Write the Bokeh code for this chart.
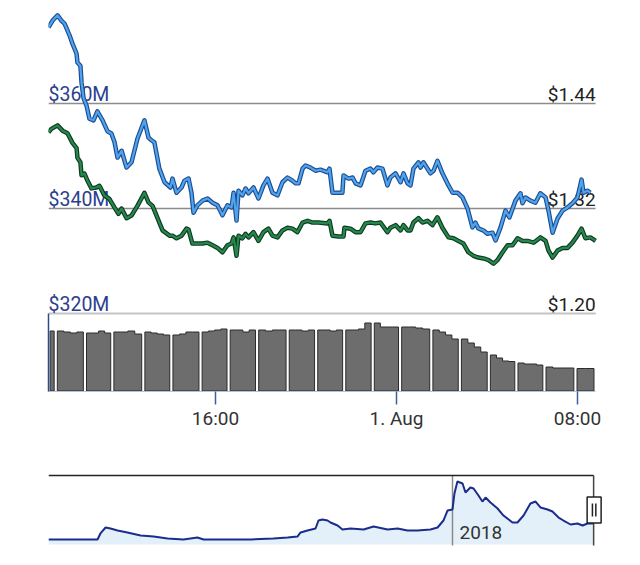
from bokeh.plotting import figure
from bokeh.models import Range1d, LinearAxis, FixedTicker
from bokeh.layouts import column
from bokeh.core.properties import value
from bokeh.embed import file_html
from bokeh.resources import INLINE

FONT = "Roboto"

# ---- main chart data (x in hours since 31 Jul 00:00) ----
blue_t = [8.62, 8.80, 9.02, 9.19, 9.33, 9.55, 9.68, 9.86, 9.90, 10.03, 10.08, 10.17, 10.30, 10.43, 10.61,
          10.78, 11.01, 11.23, 11.40, 11.54, 11.67, 11.85, 12.07, 12.29, 12.55, 12.86, 13.04, 13.17, 13.30,
          13.52, 13.75, 14.01, 14.10, 14.28, 14.50, 14.63, 14.81, 14.94, 15.03, 15.20, 15.43, 15.65, 15.87,
          16.09, 16.31, 16.53, 16.71, 16.80, 16.93, 17.02, 17.19, 17.33, 17.46, 17.68, 17.90, 18.12, 18.30,
          18.52, 18.74, 18.96, 19.18, 19.40, 19.54, 19.67, 19.85, 19.98, 20.20, 20.42, 20.64, 20.95, 21.04,
          21.17, 21.39, 21.61, 21.66, 21.88, 22.06, 22.19, 22.41, 22.63, 22.85, 22.98, 23.16, 23.38, 23.60,
          23.73, 23.96, 24.18, 24.31, 24.49, 24.62, 24.75, 24.97, 25.06, 25.19, 25.50, 25.64, 25.81, 26.03,
          26.25, 26.48, 26.70, 26.92, 27.14, 27.36, 27.49, 27.62, 27.85, 28.02, 28.24, 28.38, 28.60, 28.82,
          28.99, 29.26, 29.48, 29.57, 29.70, 29.92, 30.14, 30.36, 30.59, 30.72, 30.90, 31.12, 31.34, 31.56,
          31.78, 32.00, 32.18, 32.27, 32.44, 32.57]
blue_cap = [374.5, 375.8, 376.8, 375.8, 375.2, 373.0, 371.4, 369.5, 367.8, 367.2, 364.0, 361.0, 359.6, 357.1,
            356.8, 358.5, 356.8, 354.7, 354.3, 352.6, 349.7, 351.0, 347.8, 348.8, 353.3, 356.8, 353.5, 353.0,
            352.6, 347.6, 345.0, 344.0, 345.7, 343.0, 344.0, 345.3, 345.7, 343.0, 339.2, 340.6, 341.5, 341.9,
            341.1, 340.6, 338.7, 340.6, 340.2, 343.0, 337.7, 343.4, 342.5, 343.8, 342.9, 344.0, 341.9, 344.4,
            345.7, 343.0, 342.5, 345.0, 345.9, 345.3, 344.8, 344.8, 347.6, 348.2, 347.8, 347.2, 347.4, 346.9,
            347.6, 343.0, 343.0, 343.0, 346.3, 345.7, 345.9, 344.8, 344.4, 347.2, 347.6, 346.9, 347.8, 347.6,
            344.4, 345.9, 346.7, 345.0, 346.7, 344.8, 344.4, 347.6, 348.8, 347.8, 348.8, 346.7, 347.2, 349.1,
            346.7, 344.8, 343.0, 343.0, 342.1, 340.0, 336.4, 337.3, 336.2, 335.8, 335.2, 335.4, 333.9, 336.4,
            339.6, 338.3, 341.5, 342.9, 341.0, 342.1, 341.5, 341.1, 342.9, 342.1, 339.6, 335.4, 338.1, 339.6,
            340.2, 341.0, 342.1, 345.5, 343.0, 343.4, 343.0]

green_t = [8.62, 8.75, 9.02, 9.24, 9.46, 9.68, 9.86, 9.90, 10.03, 10.08, 10.21, 10.34, 10.52, 10.74, 10.87,
           11.09, 11.31, 11.54, 11.71, 11.85, 12.07, 12.29, 12.55, 12.86, 13.04, 13.22, 13.44, 13.66, 13.97,
           14.10, 14.28, 14.50, 14.72, 14.81, 14.98, 15.20, 15.43, 15.65, 15.87, 16.09, 16.31, 16.53, 16.71,
           16.80, 16.93, 17.02, 17.19, 17.33, 17.46, 17.68, 17.90, 18.12, 18.34, 18.52, 18.74, 18.96, 19.18,
           19.40, 19.62, 19.85, 20.07, 20.29, 20.55, 20.95, 21.04, 21.17, 21.44, 21.66, 21.70, 21.97, 22.19,
           22.41, 22.63, 22.85, 23.07, 23.29, 23.60, 23.73, 23.96, 24.18, 24.31, 24.49, 24.62, 24.75, 24.97,
           25.15, 25.37, 25.59, 25.81, 26.03, 26.30, 26.52, 26.74, 26.96, 27.18, 27.40, 27.62, 27.85, 28.07,
           28.29, 28.46, 28.69, 28.91, 29.13, 29.35, 29.57, 29.79, 30.06, 30.36, 30.59, 30.72, 30.90, 31.12,
           31.34, 31.56, 31.78, 32.00, 32.18, 32.35, 32.57, 32.80]
green_price = [1.407, 1.411, 1.415, 1.409, 1.406, 1.395, 1.389, 1.378, 1.373, 1.358, 1.360, 1.352, 1.343,
               1.344, 1.346, 1.335, 1.331, 1.321, 1.314, 1.320, 1.309, 1.312, 1.323, 1.338, 1.327, 1.323,
               1.309, 1.295, 1.289, 1.289, 1.286, 1.289, 1.297, 1.296, 1.280, 1.280, 1.280, 1.281, 1.278,
               1.275, 1.270, 1.278, 1.280, 1.287, 1.266, 1.289, 1.286, 1.291, 1.287, 1.293, 1.283, 1.293,
               1.297, 1.289, 1.287, 1.295, 1.298, 1.297, 1.293, 1.304, 1.306, 1.304, 1.304, 1.303, 1.306,
               1.289, 1.288, 1.288, 1.298, 1.297, 1.293, 1.293, 1.303, 1.304, 1.303, 1.304, 1.293, 1.298,
               1.301, 1.295, 1.301, 1.295, 1.295, 1.304, 1.309, 1.304, 1.306, 1.301, 1.310, 1.298, 1.287,
               1.286, 1.283, 1.280, 1.270, 1.266, 1.264, 1.263, 1.261, 1.257, 1.261, 1.270, 1.278, 1.278,
               1.286, 1.283, 1.283, 1.281, 1.287, 1.283, 1.272, 1.264, 1.272, 1.275, 1.275, 1.281, 1.289,
               1.297, 1.286, 1.287, 1.283]

# volume: group edges (hours) and stepped values inside each group
vol_edges = [8.62, 8.94, 10.23, 11.44, 12.81, 14.05, 15.34, 16.58, 17.84, 19.19, 20.45, 21.69, 22.95,
             24.16, 25.54, 26.80, 28.08, 29.30, 30.54, 31.91, 32.80]
vol_groups = [
    [6.0],
    [6.0, 5.9, 5.8, 5.9],
    [5.8, 5.8, 6.0, 5.8],
    [5.9, 5.9, 6.0, 5.7],
    [5.9, 5.8, 5.7, 5.6],
    [5.6, 5.7, 5.9, 5.9],
    [5.9, 6.0, 6.1, 6.2],
    [6.1, 6.1, 5.9, 6.1],
    [6.1, 6.0, 6.1, 6.1],
    [6.1, 6.1, 6.0, 6.1],
    [6.1, 6.1, 6.0, 6.1],
    [6.1, 6.1, 6.2, 6.8],
    [6.8, 6.4, 6.4, 6.4],
    [6.4, 6.4, 6.3, 6.2],
    [6.1, 5.9, 5.6, 5.2],
    [5.2, 4.8, 4.4, 3.9],
    [3.6, 3.3, 3.0, 2.95],
    [2.8, 2.7, 2.7, 2.6],
    [2.4, 2.3, 2.3, 2.3],
    [2.25, 2.25],
]

cap_ticks = [320, 340, 360]
cap_labels = ["$320M", "$340M", "$360M"]
price_ticks = [1.20, 1.32, 1.44]
price_labels = ["$1.20", "$1.32", "$1.44"]
tick_hours = [16, 24, 32]
tick_labels = ["16:00", "1. Aug", "08:00"]

view_start, view_end = 8.62, 32.80
vol_pane_top = 7.75

# ---- navigator data (x in years) ----
nav_t = [2016.351, 2016.551, 2016.563, 2016.584, 2016.604, 2016.633, 2016.673, 2016.727, 2016.780,
         2016.837, 2016.902, 2016.959, 2016.984, 2017.065, 2017.176, 2017.269, 2017.327, 2017.367,
         2017.380, 2017.408, 2017.441, 2017.453, 2017.469, 2017.490, 2017.502, 2017.531, 2017.551,
         2017.584, 2017.637, 2017.678, 2017.735, 2017.776, 2017.816, 2017.857, 2017.910, 2017.939,
         2017.963, 2017.980, 2018.000, 2018.008, 2018.020, 2018.041, 2018.053, 2018.073, 2018.086,
         2018.106, 2018.122, 2018.135, 2018.155, 2018.184, 2018.208, 2018.245, 2018.265, 2018.290,
         2018.318, 2018.339, 2018.359, 2018.388, 2018.408, 2018.433, 2018.453, 2018.482, 2018.510,
         2018.531, 2018.551, 2018.576]
nav_cap = [80, 80, 177, 273, 257, 225, 193, 144, 128, 96, 80, 112, 80, 80, 80, 96, 112, 128, 193, 225, 257,
           385, 401, 385, 353, 305, 241, 257, 241, 289, 241, 257, 225, 225, 241, 273, 385, 546, 562, 819,
           1011, 979, 835, 915, 899, 786, 690, 754, 674, 578, 465, 353, 353, 465, 658, 690, 594, 562, 530,
           433, 385, 321, 337, 305, 337, 337]
nav_year_ticks = [2018]
nav_year_labels = ["2018"]

# Both figures share a frame from x=48 to x=610 (562 px)
px_per_hour = 22.625
frame_w = 562

# ================= main figure =================
p = figure(width=632, height=441, output_backend="svg", toolbar_location=None,
           x_range=Range1d(view_start, view_start + frame_w / px_per_hour),
           y_range=Range1d(305.14, 378.10),
           y_axis_location=None, min_border_left=48, min_border_right=22,
           min_border_top=8, min_border_bottom=50)
p.outline_line_color = None
p.background_fill_color = "white"
p.extra_y_ranges = {"price": Range1d(1.1109, 1.5486), "vol": Range1d(-0.05, 38.25)}
p.grid.visible = False

# horizontal grid lines limited to the plotted time span
p.segment(x0=[view_start] * len(cap_ticks), y0=cap_ticks, x1=[view_end] * len(cap_ticks), y1=cap_ticks,
          line_color="#8c8c8c", line_width=1.5)
p.segment(x0=[view_start], y0=[vol_pane_top], x1=[view_end], y1=[vol_pane_top], y_range_name="vol",
          line_color="#c4c4c4", line_width=1)

ax = p.xaxis[0]
ax.ticker = FixedTicker(ticks=tick_hours)
ax.bounds = (view_start, view_end)
ax.major_label_overrides = {t: l for t, l in zip(tick_hours, tick_labels)}
ax.major_tick_in = 0
ax.major_tick_out = 13
ax.major_tick_line_color = "#3f5e9e"
ax.major_tick_line_width = 1.5
ax.minor_tick_line_color = None
ax.axis_line_color = "#b4c2d2"
ax.axis_line_width = 1
ax.major_label_text_font = FONT
ax.major_label_text_font_size = "19px"
ax.major_label_text_color = "#333333"
ax.major_label_standoff = 2

vax = LinearAxis(y_range_name="vol", bounds=(0, vol_pane_top), ticker=FixedTicker(ticks=[]),
                 major_tick_line_color=None, minor_tick_line_color=None,
                 major_label_text_font_size="0px", axis_line_color="#2c4b8c", axis_line_width=1.5)
p.add_layout(vax, "left")

# axis labels inside plot (above their grid lines)
p.text(x=[view_start] * len(cap_ticks), y=cap_ticks, text=cap_labels,
       text_font=value(FONT), text_font_size="19.5px", text_color="#2b3f8e",
       text_align="left", text_baseline="alphabetic", y_offset=-9)
p.text(x=[view_end] * len(price_ticks), y=price_ticks, text=price_labels, y_range_name="price",
       text_font=value(FONT), text_font_size="19px", text_color="#222222",
       text_align="right", text_baseline="alphabetic", y_offset=-9)

# volume bars (stepped tops)
pad = 0.07
xs_list, ys_list = [], []
for i, vals in enumerate(vol_groups):
    l = vol_edges[i] + pad
    r = vol_edges[i + 1] - pad
    k = len(vals)
    xs, ys = [l], [0]
    for j, v in enumerate(vals):
        x0 = l + (r - l) * j / k
        x1 = l + (r - l) * (j + 1) / k
        xs += [x0, x1]
        ys += [v, v]
    xs.append(r)
    ys.append(0)
    xs_list.append(xs)
    ys_list.append(ys)
p.patches(xs_list, ys_list, y_range_name="vol", fill_color="#6d6d6d",
          line_color="#2b2b2b", line_width=1)

# lines
p.line(green_t, green_price, y_range_name="price", line_color="#0e3a20", line_width=4.5, line_join="round")
p.line(green_t, green_price, y_range_name="price", line_color="#27884d", line_width=2.2, line_join="round")
p.line(blue_t, blue_cap, line_color="#1d4c96", line_width=4.5, line_join="round")
p.line(blue_t, blue_cap, line_color="#4fa4ea", line_width=2.2, line_join="round")

# ================= navigator =================
px_per_year = 245.0
nav_x0 = 2016.351
n = figure(width=632, height=116, output_backend="svg", toolbar_location=None,
           x_range=Range1d(nav_x0, nav_x0 + frame_w / px_per_year), y_range=Range1d(-96.3, 1187.7),
           x_axis_location=None, y_axis_location=None,
           min_border_left=48, min_border_right=22, min_border_top=29, min_border_bottom=7)
n.outline_line_color = None
n.grid.visible = False
nav_top = 1107.5
nav_bottom = -16
n.varea(x=nav_t, y1=[0] * len(nav_t), y2=nav_cap, fill_color="#e4f0f9")
n.segment(x0=nav_year_ticks, y0=[nav_top] * len(nav_year_ticks), x1=nav_year_ticks,
          y1=[nav_bottom] * len(nav_year_ticks), line_color="#8a8a8a", line_width=1.5)
n.text(x=nav_year_ticks, y=[0] * len(nav_year_ticks), text=nav_year_labels, x_offset=7, y_offset=-12,
       text_font=value(FONT), text_font_size="19px", text_color="#333333",
       text_align="left", text_baseline="alphabetic")
n.line(nav_t, nav_cap, line_color="#1b2d8c", line_width=2)
end = nav_t[-1]
n.segment(x0=[nav_t[0]], y0=[nav_top], x1=[end], y1=[nav_top], line_color="#222222", line_width=1.5)
n.segment(x0=[end], y0=[nav_top], x1=[end], y1=[nav_bottom], line_color="#444444", line_width=1.5)
hx = end + 0.5 / px_per_year
n.rect(x=[hx], y=[553.7], width=14, height=26, width_units="screen",
       height_units="screen", fill_color="white", line_color="#222222", line_width=1.5)
d = 1.7 / px_per_year
n.segment(x0=[hx - d, hx + d], y0=[658, 658], x1=[hx - d, hx + d], y1=[449, 449],
          line_color="#222222", line_width=1.5)

layout = column(p, n, spacing=0)
open("out.html", "w").write(file_html(layout, INLINE))
